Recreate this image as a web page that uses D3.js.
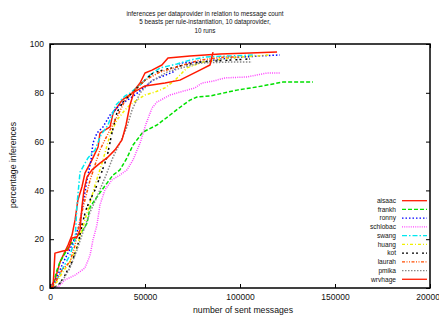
<!DOCTYPE html>
<html>
<head>
<meta charset="utf-8">
<script src="https://cdn.jsdelivr.net/npm/d3@7/dist/d3.min.js"></script>
<style>
  body { margin: 0; background: #fff; }
  text { font-family: "Liberation Sans", Arial, Helvetica, sans-serif; fill: #111; }
</style>
</head>
<body>
<div id="chart"></div>
<script>
  // Data: [sent messages, percentage inferences]
  const aisaac = [[0,0],[2600,3.3],[5300,10.7],[9500,17.6],[11600,21.7],[13200,27.9],[14700,36.1],[16800,41.4],[18400,47.1],[22100,52.5],[25300,57.8],[26300,63.5],[31600,66],[33200,71.7],[37900,77],[43200,79.9],[47400,84],[50000,88.1],[53700,89.3],[58900,91.4],[62100,94.3],[73700,95.1],[89500,95.9],[105300,96.3],[119500,96.7]];
  const frankh = [[0,0],[1600,1.2],[3700,7.4],[5300,10.7],[8900,15.6],[13200,20.5],[17400,23.8],[19500,26.6],[21100,33.2],[24700,37.3],[30000,43],[33200,46.3],[36800,48.4],[40500,53.3],[43700,58.6],[48900,63.9],[56300,66.8],[63200,70.9],[70000,75],[73700,77],[77400,78.3],[84200,78.7],[98400,81.1],[108900,82.4],[122600,84.4],[138400,84.4]];
  const ronny = [[0,0],[2600,2.5],[6800,10.2],[12100,18.4],[15800,26.6],[17400,34.8],[19500,44.3],[21600,52.5],[22600,59.4],[24700,63.5],[27900,66],[31600,70.9],[36800,75],[44700,79.1],[54200,85.2],[64700,88.5],[68400,92.2],[78900,92.6],[94700,94.3],[110500,95.1],[121000,95.5]];
  const schlobac = [[0,0],[4200,0.4],[7900,3.3],[13200,5.3],[18400,8.2],[21100,13.5],[22600,19.7],[24700,25.8],[26300,34],[28900,40.2],[32600,44.3],[36800,46.3],[40500,48.4],[43700,52.5],[47400,59.4],[50500,67.2],[53700,73.8],[56300,76.2],[63200,79.1],[68400,80.3],[76300,82],[80000,84],[85800,84.8],[92100,86.1],[103700,86.5],[114200,88.1],[121000,88.1]];
  const swang = [[0,0],[2600,2],[6300,7.4],[10500,13.5],[13200,19.7],[14200,34],[15800,47.5],[20000,53.3],[23700,56.6],[26800,62.7],[30500,66.8],[34700,75],[39500,78.7],[42100,79.9],[47400,83.2],[52600,87.3],[57900,90.2],[66800,91.8],[73700,93.4],[81600,94.7],[94700,95.1],[107900,95.5]];
  const huang = [[0,0],[2600,1.2],[6800,6.6],[10500,10.7],[14200,16.8],[16800,23.8],[20000,32],[23700,42.2],[27400,51.2],[31600,62.7],[35300,68.9],[39500,73],[42100,75],[45800,77],[50000,79.1],[55300,80.3],[60500,82],[65800,85.2],[72100,90.2],[80500,92.6],[94700,94.3],[115800,95.5]];
  const kot = [[0,0],[2600,0.4],[5300,2],[7900,5.3],[11600,10.7],[14700,17.6],[16800,25.8],[18900,32],[21100,36.1],[23700,40.2],[26300,45.5],[30000,53.7],[32600,63.5],[35300,72.1],[38400,76.2],[43700,80.3],[48900,84.4],[54200,88.1],[59500,89.3],[68400,91],[78900,92.6],[94700,93.4],[105300,93.9]];
  const laurah = [[0,0],[2600,2],[6300,7.4],[10500,10.7],[13200,17.6],[15800,27.9],[18400,36.1],[21100,44.3],[23700,50.4],[26300,56.6],[28900,60.7],[31600,64.8],[35800,70.9],[39500,77],[44700,81.1],[50000,85.2],[57900,88.5],[68400,91],[78900,93.4],[92100,94.7],[100000,94.7]];
  const pmika = [[0,0],[3700,0.8],[6800,3.3],[10500,8.2],[14200,15.6],[17400,23],[21100,31.1],[24700,37.3],[29500,46.3],[33200,53.7],[36800,59.4],[40500,66],[43200,73],[47400,79.9],[52600,84.4],[61600,88.5],[71100,90.6],[78900,92.2],[94700,92.6],[106300,92.6]];
  const wrvhage = [[0,0],[1600,0.4],[2600,14.3],[6800,15.2],[9500,15.6],[11600,20.5],[14200,20.9],[15800,23.8],[16800,33.2],[17900,40.2],[19500,45.5],[22100,48.4],[26300,51.2],[30000,53.3],[34200,56.6],[37900,60.7],[40000,66.8],[42100,75],[44200,80.3],[50000,82.8],[60500,84],[68400,85.2],[78900,89.3],[84200,91.4],[85800,96.7]];

  const seriesNames = ["aisaac", "frankh", "ronny", "schlobac", "swang", "huang", "kot", "laurah", "pmika", "wrvhage"];
  const seriesData = [aisaac, frankh, ronny, schlobac, swang, huang, kot, laurah, pmika, wrvhage];
  const xTicks = [0, 50000, 100000, 150000, 200000];
  const yTicks = [0, 20, 40, 60, 80, 100];
  const titleLines = ["inferences per dataprovider in relation to message count", "5 beasts per rule-instantiation, 10 dataprovider,", "10 runs"];

  // gnuplot style line types (colour + dash)
  const colors = ["#ff1a00", "#00e000", "#0000ff", "#ff44ff", "#00e8f0", "#f0f000", "#000000", "#ff4d00", "#888888", "#ff1a00"];
  const dashes = [null, "4,2", "1.5,2", "1,1.2", "5,2,1.5,2", "3,2,1,2", "2,2,2,4", "3,1.5,1,1.5,1,1.5", "1.5,1.5", null];

  const width = 439, height = 315;
  const plot = {left: 50, right: 430, top: 44, bottom: 288};

  const svg = d3.select("#chart").append("svg")
    .attr("width", width)
    .attr("height", height);

  const x = d3.scaleLinear().domain([0, 200000]).range([plot.left, plot.right]);
  const y = d3.scaleLinear().domain([0, 100]).range([plot.bottom, plot.top]);

  //Title, three lines
  svg.append("g").selectAll("text")
    .data(titleLines)
    .enter()
    .append("text")
      .attr("x", 205)
      .attr("y", (d, i) => 16 + i * 8.3)
      .attr("text-anchor", "middle")
      .attr("font-size", "6.3px")
      .text(d => d);

  //Clip so curves stay inside the frame
  svg.append("clipPath").attr("id", "clip")
    .append("rect")
      .attr("x", plot.left).attr("y", plot.top)
      .attr("width", plot.right - plot.left).attr("height", plot.bottom - plot.top);

  //Curves
  const line = d3.line()
    .x(d => x(d[0]))
    .y(d => y(d[1]));

  svg.append("g").attr("clip-path", "url(#clip)")
    .selectAll("path")
    .data(seriesData)
    .enter()
    .append("path")
      .attr("fill", "none")
      .attr("stroke", (d, i) => colors[i])
      .attr("stroke-width", 1.5)
      .attr("stroke-linejoin", "round")
      .attr("stroke-dasharray", (d, i) => dashes[i])
      .attr("d", line);

  //Axes with inward ticks, mirrored on top and right
  const bottomAxis = svg.append("g")
    .attr("transform", "translate(0," + plot.bottom + ")")
    .call(d3.axisBottom(x).tickValues(xTicks).tickSize(-4).tickPadding(6).tickFormat(d3.format("d")));
  const leftAxis = svg.append("g")
    .attr("transform", "translate(" + plot.left + ",0)")
    .call(d3.axisLeft(y).tickValues(yTicks).tickSize(-4).tickPadding(6));
  svg.append("g")
    .attr("transform", "translate(0," + plot.top + ")")
    .call(d3.axisTop(x).tickValues(xTicks).tickSize(-4).tickFormat(""));
  svg.append("g")
    .attr("transform", "translate(" + plot.right + ",0)")
    .call(d3.axisRight(y).tickValues(yTicks).tickSize(-4).tickFormat(""));

  svg.selectAll(".domain").remove();
  svg.selectAll(".tick line").attr("stroke", "#000").attr("stroke-width", 1);
  bottomAxis.selectAll("text").attr("font-size", "8.5px").attr("font-family", "Liberation Sans, Arial, sans-serif").attr("fill", "#111");
  leftAxis.selectAll("text").attr("font-size", "8.5px").attr("font-family", "Liberation Sans, Arial, sans-serif").attr("fill", "#111");

  //Frame
  svg.append("rect")
    .attr("x", plot.left).attr("y", plot.top)
    .attr("width", plot.right - plot.left).attr("height", plot.bottom - plot.top)
    .attr("fill", "none")
    .attr("stroke", "#000")
    .attr("stroke-width", 1.5);

  //Axis titles
  svg.append("text")
    .attr("x", 243).attr("y", 313)
    .attr("text-anchor", "middle")
    .attr("font-size", "8.7px")
    .text("number of sent messages");

  svg.append("text")
    .attr("transform", "translate(16,165) rotate(-90)")
    .attr("text-anchor", "middle")
    .attr("font-size", "8.7px")
    .text("percentage inferences");

  //Legend, bottom right inside the frame
  const legend = svg.append("g").selectAll("g")
    .data(seriesNames)
    .enter()
    .append("g")
      .attr("transform", (d, i) => "translate(0," + (200.7 + i * 8.73) + ")");

  legend.append("text")
    .attr("x", 396)
    .attr("y", 2.3)
    .attr("text-anchor", "end")
    .attr("font-size", "6.6px")
    .text(d => d);

  legend.append("line")
    .attr("x1", 402).attr("x2", 427)
    .attr("y1", 0).attr("y2", 0)
    .attr("stroke", (d, i) => colors[i])
    .attr("stroke-width", 1.3)
    .attr("stroke-dasharray", (d, i) => dashes[i]);
</script>
</body>
</html>
